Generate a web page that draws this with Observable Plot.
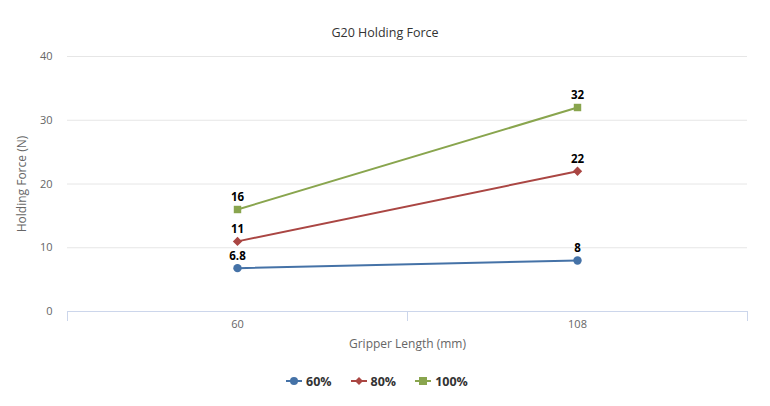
<!DOCTYPE html>
<html><head><meta charset="utf-8">
<script src="https://cdn.jsdelivr.net/npm/d3@7"></script>
<script src="https://cdn.jsdelivr.net/npm/@observablehq/plot@0.6"></script>
<style>
body{margin:0;background:#fff;font-family:"Open Sans",sans-serif}
#wrap{position:relative;width:770px;height:406px}
#title{position:absolute;top:24px;left:0;width:770px;text-align:center;font-size:12.5px;color:#333}
#legend{position:absolute;top:372px;left:286px;display:flex;font-size:12.5px;font-weight:bold;color:#333}
.item{display:flex;align-items:center;margin-right:19px;height:18px}
.item svg{margin-right:4px}
</style></head>
<body>
<div id="wrap"><div id="chart"></div><div id="title"></div><div id="legend"></div></div>
<script>
const title = "G20 Holding Force";
const categories = ["60", "108"];
const seriesNames = ["60%", "80%", "100%"];
const values60 = [6.8, 8];
const values80 = [11, 22];
const values100 = [16, 32];
const yTicks = [0, 10, 20, 30, 40];
const xTitle = "Gripper Length (mm)";
const yTitle = "Holding Force (N)";
const colors = ["#4572A7", "#AA4643", "#89A54E"];
const symbols = ["circle", "diamond2", "square"];

const allValues = [values60, values80, values100];
const data = [];
seriesNames.forEach((s, k) => allValues[k].forEach((v, i) => data.push({series: s, i, cat: categories[i], value: v})));

const chart = Plot.plot({
  width: 770, height: 406,
  marginTop: 56, marginBottom: 95, marginLeft: 67, marginRight: 23,
  style: {fontFamily: "'Open Sans', sans-serif", fontSize: "11px", color: "#666", background: "#fff"},
  x: {type: "linear", domain: [-0.5, categories.length - 0.5]},
  y: {domain: [0, 40]},
  color: {domain: seriesNames, range: colors},
  symbol: {domain: seriesNames, range: symbols},
  marks: [
    Plot.gridY(yTicks, {stroke: "#e6e6e6", strokeOpacity: 1}),
    Plot.ruleY([0], {stroke: "#ccd6eb"}),
    Plot.axisY({ticks: yTicks, tickSize: 0, tickPadding: 15, label: null, fill: "#666"}),
    Plot.axisX({ticks: categories.map((c, i) => i), tickFormat: i => categories[i], tickSize: 0, tickPadding: 9, label: null, fill: "#666"}),
    Plot.axisX({ticks: d3.range(categories.length + 1).map(i => i - 0.5), tickFormat: () => "", tickSize: 10, stroke: "#ccd6eb", label: null}),
    Plot.text([yTitle], {frameAnchor: "left", textAnchor: "middle", rotate: -90, dx: -45, fill: "#666", fontSize: 12}),
    Plot.text([xTitle], {frameAnchor: "bottom", dy: 36, fill: "#666", fontSize: 12}),
    Plot.line(data, {x: "i", y: "value", z: "series", stroke: "series", strokeWidth: 2}),
    Plot.dot(data, {x: "i", y: "value", fill: "series", symbol: "series", r: 4.2}),
    Plot.text(data, {x: "i", y: "value", text: d => String(d.value), dy: -12, fill: "#000", fontWeight: "bold", fontSize: 11.5})
  ]
});
document.getElementById("chart").appendChild(chart);
document.getElementById("title").textContent = title;

const shapes = {
  circle: c => `<circle cx="8" cy="9" r="4" fill="${c}"/>`,
  diamond2: c => `<path d="M8 5 L12 9 L8 13 L4 9 Z" fill="${c}"/>`,
  square: c => `<rect x="4" y="5" width="8" height="8" fill="${c}"/>`
};
const leg = document.getElementById("legend");
seriesNames.forEach((s, k) => {
  const d = document.createElement("div");
  d.className = "item";
  d.innerHTML = `<svg width="16" height="18"><line x1="0" x2="16" y1="9" y2="9" stroke="${colors[k]}" stroke-width="2"/>${shapes[symbols[k]](colors[k])}</svg><span>${s}</span>`;
  leg.appendChild(d);
});
</script>
</body></html>
